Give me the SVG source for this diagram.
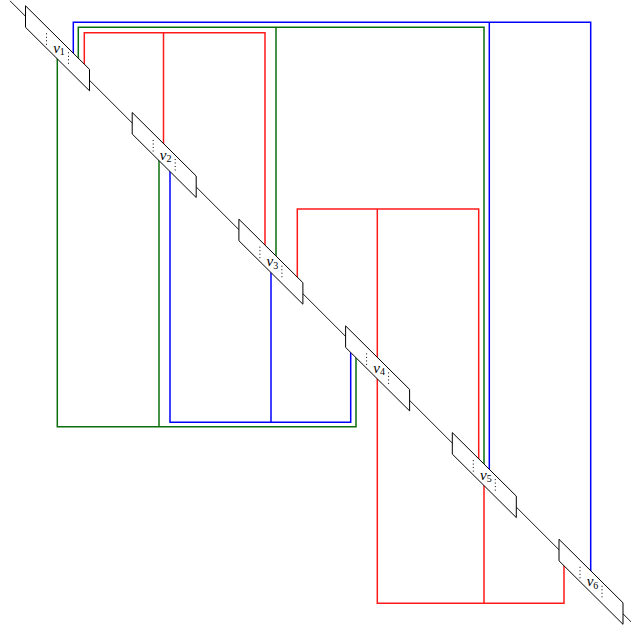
<svg xmlns="http://www.w3.org/2000/svg" width="631" height="633" viewBox="0 0 631 633">
<style>
.c{fill:none;stroke-width:1.5;stroke-linejoin:miter;stroke-linecap:butt}
.r{stroke:#ff1a1a}
.g{stroke:#0a6e0a}
.b{stroke:#0000ff}
.axis{fill:none;stroke:#000;stroke-width:0.9}
.box{fill:#fff;stroke:#000;stroke-width:1}
.dot{fill:none;stroke:#000;stroke-width:1;stroke-dasharray:1 2.5}
.lbl{font-family:"Liberation Serif",serif;font-style:italic;font-size:15px;fill:#000}
.sub{font-size:10px;font-style:normal}
</style>
<defs>
<g id="nodeShape">
<path class="box" d="M-32,-42.5 L32,21 L32,42.5 L-32,-21 Z"/>
<line class="dot" x1="-11" y1="-15" x2="-11" y2="-3"/>
<line class="dot" x1="11" y1="4" x2="11" y2="17"/>
</g>
</defs>
<line class="axis" x1="10" y1="0.8" x2="631" y2="621.8"/>
<g id="connectors">
<path class="c b" d="M73.3,64.1 V22.3 H590.7 V581.5"/>
<path class="c b" d="M489.3,22.3 V480.1"/>
<path class="c g" d="M78.3,69.1 V27.3 H484 V474.8"/>
<path class="c g" d="M276,27.3 V266.8"/>
<path class="c r" d="M84.3,75.1 V32.7 H265 V255.8"/>
<path class="c r" d="M163.5,32.7 V154.3"/>
<path class="c g" d="M57.3,48.1 V426.7 H356 V346.8"/>
<path class="c g" d="M159,426.7 V149.8"/>
<path class="c b" d="M170,160.8 V422.3 H350.7 V341.5"/>
<path class="c b" d="M271,422.3 V261.8"/>
<path class="c r" d="M297.3,288.1 V209 H478.7 V469.5"/>
<path class="c r" d="M377.3,209 V368.1"/>
<path class="c r" d="M377.3,368.1 V603.3 H564 V554.8"/>
<path class="c r" d="M484,603.3 V474.8"/>
</g>
<g id="v1" transform="translate(57.5,48.3)"><use href="#nodeShape"/><text class="lbl" x="1.5" y="4.5" text-anchor="middle">v<tspan class="sub" dy="2.5">1</tspan></text></g>
<g id="v2" transform="translate(164.2,155)"><use href="#nodeShape"/><text class="lbl" x="1.5" y="4.5" text-anchor="middle">v<tspan class="sub" dy="2.5">2</tspan></text></g>
<g id="v3" transform="translate(270.9,261.7)"><use href="#nodeShape"/><text class="lbl" x="1.5" y="4.5" text-anchor="middle">v<tspan class="sub" dy="2.5">3</tspan></text></g>
<g id="v4" transform="translate(377.6,368.4)"><use href="#nodeShape"/><text class="lbl" x="1.5" y="4.5" text-anchor="middle">v<tspan class="sub" dy="2.5">4</tspan></text></g>
<g id="v5" transform="translate(484.3,475.1)"><use href="#nodeShape"/><text class="lbl" x="1.5" y="4.5" text-anchor="middle">v<tspan class="sub" dy="2.5">5</tspan></text></g>
<g id="v6" transform="translate(591,581.8)"><use href="#nodeShape"/><text class="lbl" x="1.5" y="4.5" text-anchor="middle">v<tspan class="sub" dy="2.5">6</tspan></text></g>
</svg>
